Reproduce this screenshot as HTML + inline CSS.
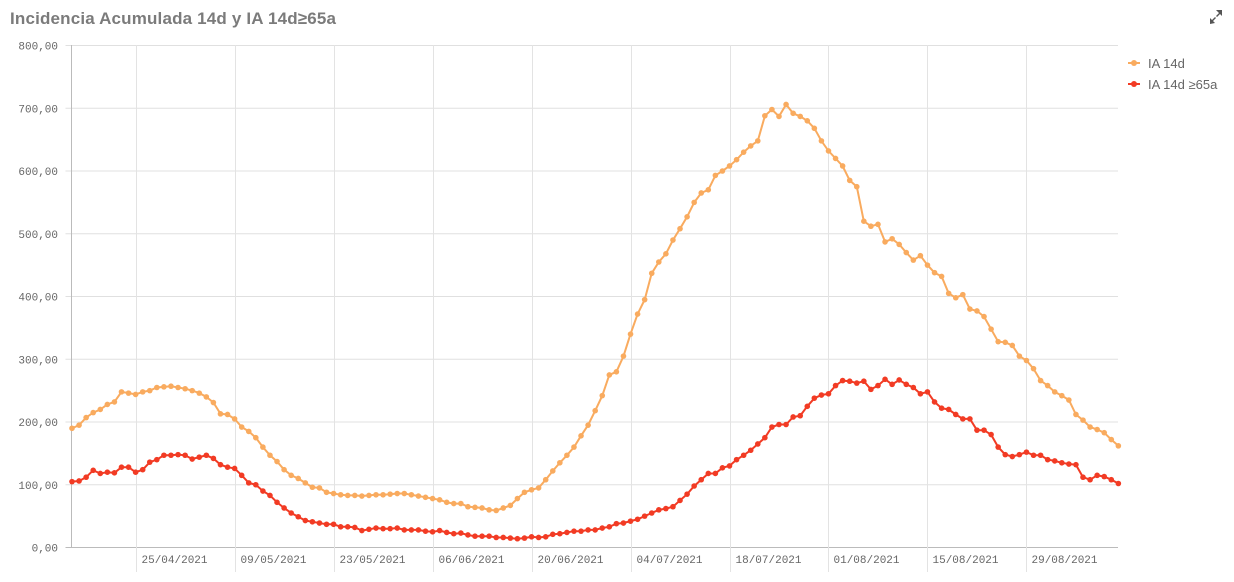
<!DOCTYPE html>
<html><head><meta charset="utf-8"><style>
html,body{margin:0;padding:0;background:#fff;width:1234px;height:582px;overflow:hidden}
</style></head><body>
<svg id="s" width="1234" height="582" xmlns="http://www.w3.org/2000/svg" font-family="Liberation Mono, monospace">
<text x="10" y="24" font-family="Liberation Sans, sans-serif" font-weight="bold" font-size="17" fill="#7b7b7b" textLength="326">Incidencia Acumulada 14d y IA 14d≥65a</text>
<g fill="#555"><path d="M1216 10h6v6l-2-2-3 3-1-1 3-3z"/><path d="M1210 24v-6l2 2 3-3 1 1-3 3 2 2z"/></g>
<g id="grid"></g>
<g id="ser"></g>
<g font-family="Liberation Sans, sans-serif" font-size="13" fill="#666">
<line x1="1128" y1="63" x2="1140" y2="63" stroke="#f9ab5f" stroke-width="2"/><circle cx="1134" cy="63" r="3" fill="#f9ab5f"/>
<text x="1148" y="68">IA 14d</text>
<line x1="1128" y1="84" x2="1140" y2="84" stroke="#f23b24" stroke-width="2"/><circle cx="1134" cy="84" r="3" fill="#f23b24"/>
<text x="1148" y="89">IA 14d ≥65a</text>
</g>
</svg>
<script>
var o=[190,195,207,215,220,228,232,248,246,244,248,250,255,256,257,255,253,250,246,240,231,213,212,205,192,185,175,160,147,137,124,115,110,103,96,95,88,86,84,83,83,82,83,84,84,85,86,86,84,82,80,78,76,72,70,70,65,64,63,60,59,63,67,78,88,92,95,108,122,135,147,160,178,195,218,242,275,280,305,340,372,395,437,455,468,490,508,527,550,565,570,593,600,608,618,630,640,648,688,698,687,706,692,687,680,668,648,632,620,608,585,575,520,512,515,487,492,483,470,458,465,450,438,432,405,398,403,380,377,368,348,328,327,322,305,298,285,266,258,248,242,235,212,203,192,188,183,172,162];
var r=[105,106,112,123,118,120,119,128,128,120,124,136,140,147,147,148,147,141,144,147,142,132,128,126,115,103,100,90,83,72,63,55,49,43,41,39,37,37,33,33,32,27,29,31,30,30,31,28,28,28,26,25,27,24,22,23,20,18,18,18,16,16,15,14,15,17,16,17,21,22,24,26,26,28,28,31,33,38,39,42,45,50,55,60,62,65,75,85,98,108,118,118,127,130,140,147,155,165,175,192,196,196,208,210,225,238,243,245,258,266,265,262,265,252,258,268,260,267,260,255,245,248,232,222,220,212,205,205,187,187,180,160,148,145,148,152,147,147,140,138,135,133,132,112,108,115,113,108,102];
var L=71.5,R=1118,Y0=547.5,K=0.6275,DX=7.07,X0=72;
var NS="http://www.w3.org/2000/svg",g=document.getElementById('grid'),sv=document.getElementById('ser');
function el(p,t,a,txt){var e=document.createElementNS(NS,t);for(var k in a)e.setAttribute(k,a[k]);if(txt)e.textContent=txt;p.appendChild(e);return e;}
for(var v=0;v<=800;v+=100){var y=Y0-v*K;el(g,'line',{x1:L-6,x2:R,y1:y,y2:y,stroke:v?'#e0e0e0':'#bbb','stroke-width':1});
el(g,'text',{x:58,y:y+4,'text-anchor':'end','font-size':11,fill:'#666'},v.toFixed(2).replace('.',','));}
var d=['25/04/2021','09/05/2021','23/05/2021','06/06/2021','20/06/2021','04/07/2021','18/07/2021','01/08/2021','15/08/2021','29/08/2021'];
for(var i=0;i<d.length;i++){var x=Math.round(X0+DX*(9+14*i))+0.5;el(g,'line',{x1:x,x2:x,y1:45,y2:572,stroke:'#e3e3e3'});
el(g,'text',{x:x+5,y:563,'font-size':11,fill:'#666'},d[i]);}
el(g,'line',{x1:L,x2:L,y1:45,y2:548,stroke:'#bbb'});
function ser(a,c){var p='';for(var i=0;i<a.length;i++){var x=X0+DX*i,y=Y0-a[i]*K;p+=(i?'L':'M')+x.toFixed(1)+' '+y.toFixed(1);}
el(sv,'path',{d:p,fill:'none',stroke:c,'stroke-width':2});
for(var i=0;i<a.length;i++)el(sv,'circle',{cx:X0+DX*i,cy:Y0-a[i]*K,r:2.8,fill:c});}
ser(o,'#f9ab5f');ser(r,'#f23b24');
</script>
</body></html>
